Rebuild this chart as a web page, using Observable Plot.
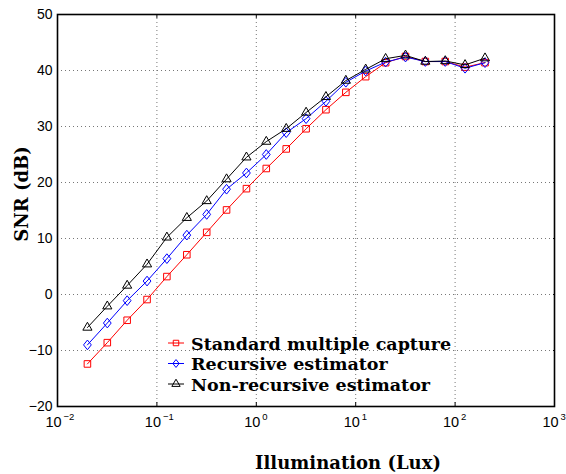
<!DOCTYPE html>
<html>
<head>
<meta charset="utf-8">
<script src="https://cdn.jsdelivr.net/npm/d3@7"></script>
<script src="https://cdn.jsdelivr.net/npm/@observablehq/plot@0.6"></script>
<style>
  html, body { margin: 0; padding: 0; background: #fff; }
  #chart { width: 566px; height: 474px; }
</style>
</head>
<body>
<div id="chart"></div>
<script>
// Illumination levels (Lux)
const illumination = [0.02, 0.0317, 0.0502, 0.0796, 0.126, 0.2, 0.317, 0.502, 0.796, 1.26, 2, 3.17, 5.02, 7.96, 12.6, 20, 31.7, 50.2, 79.6, 126, 200];
// SNR (dB) series
const standardSNR = [-12.4, -8.6, -4.6, -0.9, 3.2, 7.1, 11.1, 15.1, 18.9, 22.5, 26.0, 29.6, 33.0, 36.1, 38.9, 41.4, 42.5, 41.6, 41.6, 40.6, 41.4];
const recursiveSNR = [-9.0, -5.1, -1.1, 2.4, 6.4, 10.6, 14.3, 18.8, 21.7, 25.0, 28.9, 31.4, 34.5, 37.9, 39.9, 41.5, 42.4, 41.6, 41.6, 40.4, 41.4];
const nonRecursiveSNR = [-5.9, -2.1, 1.6, 5.4, 10.2, 13.7, 16.7, 20.6, 24.5, 27.3, 29.6, 32.5, 35.3, 38.2, 40.2, 42.1, 42.7, 41.6, 41.7, 41.0, 42.2];
const seriesNames = ["Standard multiple capture", "Recursive estimator", "Non-recursive estimator"];
// Tick labels
const xTicks = [0.01, 0.1, 1, 10, 100, 1000];
const xExponents = ["\u22122", "\u22121", "0", "1", "2", "3"];
const yTicks = [-20, -10, 0, 10, 20, 30, 40, 50];
const xLabel = "Illumination (Lux)";
const yLabel = "SNR (dB)";

const colors = ["#ff0000", "#0000ff", "#000000"];
const seriesValues = [standardSNR, recursiveSNR, nonRecursiveSNR];

// MATLAB-like diamond (wider than d3's)
const matlabDiamond = {
  draw(context, size) {
    const h = Math.sqrt(size) * 0.72;
    const w = h * 0.8;
    context.moveTo(0, -h);
    context.lineTo(w, 0);
    context.lineTo(0, h);
    context.lineTo(-w, 0);
    context.closePath();
  }
};
const symbols = [d3.symbolSquare, matlabDiamond, d3.symbolTriangle];
const radii = [3.7, 3.8, 3.4];

const data = [];
seriesNames.forEach((name, i) => {
  illumination.forEach((x, j) => data.push({series: name, x, y: seriesValues[i][j]}));
});

const serif = "'DejaVu Serif', serif";
const sans = "'Liberation Sans', Arial, sans-serif";

const marks = [
  // dotted grid
  Plot.ruleX(xTicks.slice(1, -1), {stroke: "#777", strokeWidth: 1, strokeDasharray: "1,3"}),
  Plot.ruleY(yTicks.slice(1, -1), {stroke: "#777", strokeWidth: 1, strokeDasharray: "1,3"}),
  // inward ticks
  Plot.ruleX(xTicks, {y1: -20, y2: -19.3, stroke: "#000"}),
  Plot.ruleX(xTicks, {y1: 50, y2: 49.3, stroke: "#000"}),
  Plot.ruleY(yTicks, {x1: 0.01, x2: 0.0102, stroke: "#000"}),
  Plot.ruleY(yTicks, {x1: 1000, x2: 980, stroke: "#000"}),
];
seriesNames.forEach((name, i) => {
  const d = data.filter(r => r.series === name);
  marks.push(Plot.line(d, {x: "x", y: "y", stroke: colors[i], strokeWidth: 1}));
  marks.push(Plot.dot(d, {x: "x", y: "y", stroke: colors[i], fill: "none", symbol: symbols[i], r: radii[i], strokeWidth: 1}));
});
marks.push(
  Plot.axisY(yTicks, {anchor: "left", tickSize: 0, tickPadding: 5, fontSize: 14, fontFamily: sans, fill: "#000", label: null}),
  Plot.text(xTicks, {x: d => d, frameAnchor: "bottom", dy: 16, dx: -4, text: () => "10", fontSize: 14.5, fontFamily: sans, fill: "#000", lineAnchor: "middle"}),
  Plot.text(xTicks, {x: d => d, frameAnchor: "bottom", dy: 10, dx: 6, text: (d, i) => xExponents[i], fontSize: 9.5, fontFamily: sans, fill: "#000", textAnchor: "start", lineAnchor: "middle"}),
  Plot.frame({stroke: "#000", strokeWidth: 1.6})
);

const plot = Plot.plot({
  width: 566,
  height: 474,
  marginLeft: 57,
  marginRight: 12,
  marginTop: 14,
  marginBottom: 68,
  style: {background: "#fff", overflow: "visible"},
  x: {type: "log", domain: [0.01, 1000], axis: null},
  y: {domain: [-20, 50], axis: null},
  marks
});

const svg = d3.select(plot);
// axis titles
svg.append("text")
  .attr("x", 348).attr("y", 469)
  .attr("text-anchor", "middle")
  .attr("font-family", serif).attr("font-weight", "bold").attr("font-size", 18)
  .attr("fill", "#000")
  .text(xLabel);
svg.append("text")
  .attr("transform", "translate(28,194) rotate(-90)")
  .attr("text-anchor", "middle")
  .attr("font-family", serif).attr("font-weight", "bold").attr("font-size", 18)
  .attr("fill", "#000")
  .text(yLabel);

// legend
const leg = svg.append("g").attr("text-anchor", "start");
seriesNames.forEach((name, i) => {
  const y = 343 + i * 20.5;
  leg.append("line").attr("x1", 168).attr("x2", 184).attr("y1", y).attr("y2", y)
    .attr("stroke", colors[i]).attr("stroke-width", 1);
  leg.append("path").attr("d", d3.symbol(symbols[i], 30)()).attr("transform", `translate(176,${y})`)
    .attr("fill", "none").attr("stroke", colors[i]).attr("stroke-width", 1);
  leg.append("text").attr("x", 191).attr("y", y + 6.5)
    .attr("text-anchor", "start")
    .attr("font-family", serif).attr("font-weight", "bold").attr("font-size", 17.5)
    .attr("fill", "#000").text(name);
});

document.getElementById("chart").appendChild(plot);
</script>
</body>
</html>
